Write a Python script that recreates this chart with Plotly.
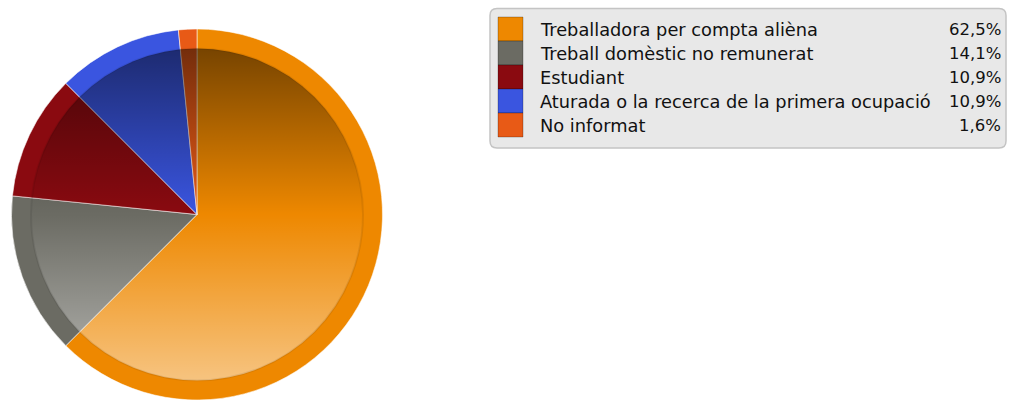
import base64
import plotly.graph_objects as go

labels = ["Treballadora per compta ali\u00e8na",
          "Treball dom\u00e8stic no remunerat",
          "Estudiant",
          "Aturada o la recerca de la primera ocupaci\u00f3",
          "No informat"]
values = [62.5, 14.1, 10.9, 10.9, 1.6]
colors = ["#EE8800", "#6B6B63", "#8A0A10", "#3A55E0", "#E85A16"]

W, H = 1009, 400

# pie placement (pixels)
cx, cy, r = 197, 214.5, 185.5
r_in = 167

fig = go.Figure()
fig.add_trace(go.Pie(
    labels=labels, values=values, sort=False, direction="clockwise",
    rotation=0, textinfo="none", hoverinfo="label+percent",
    marker=dict(colors=colors, line=dict(color="rgba(255,255,255,0.55)", width=1)),
    domain=dict(x=[(cx - r) / W, (cx + r) / W],
                y=[max(0, 1 - (cy + r) / H), 1 - (cy - r) / H]),
    showlegend=False,
))

# shading overlay for the inner disc (dark at top, light at bottom)
svg = (
    "<svg xmlns='http://www.w3.org/2000/svg' width='334' height='334'>"
    "<defs><linearGradient id='g' x1='0' y1='0' x2='0' y2='1'>"
    "<stop offset='0' stop-color='#000' stop-opacity='0.5'/>"
    "<stop offset='0.5' stop-color='#000' stop-opacity='0'/>"
    "<stop offset='0.5' stop-color='#fff' stop-opacity='0'/>"
    "<stop offset='1' stop-color='#fff' stop-opacity='0.5'/>"
    "</linearGradient></defs>"
    "<circle cx='167' cy='167' r='166' fill='url(#g)' "
    "stroke='rgba(0,0,0,0.08)' stroke-width='2'/></svg>"
)
src = "data:image/svg+xml;base64," + base64.b64encode(svg.encode()).decode()
fig.add_layout_image(dict(
    source=src, xref="paper", yref="paper",
    x=(cx - r_in) / W, y=1 - (cy - r_in) / H,
    sizex=2 * r_in / W, sizey=2 * r_in / H,
    xanchor="left", yanchor="top", sizing="stretch", layer="above",
))

# legend box, drawn in pixel coordinates on hidden axes
x0, x1, y0, y1, rc = 490, 1006, 8.5, 148, 7
box = (f"M {x0+rc},{y0} L {x1-rc},{y0} Q {x1},{y0} {x1},{y0+rc} "
       f"L {x1},{y1-rc} Q {x1},{y1} {x1-rc},{y1} L {x0+rc},{y1} "
       f"Q {x0},{y1} {x0},{y1-rc} L {x0},{y0+rc} Q {x0},{y0} {x0+rc},{y0} Z")
fig.add_shape(type="path", path=box, xref="x", yref="y",
              fillcolor="#E8E8E8", line=dict(color="#C4C4C4", width=1.5), layer="below")

row0, step = 17, 24
lab_font = dict(family="DejaVu Sans", size=17.8, color="#111111")
pct_font = dict(family="DejaVu Sans", size=16.5, color="#111111")
for i, (lab, val, col) in enumerate(zip(labels, values, colors)):
    top = row0 + step * i
    fig.add_shape(type="rect", x0=498, x1=523, y0=top, y1=top + step,
                  xref="x", yref="y", fillcolor=col,
                  line=dict(color="rgba(0,0,0,0.25)", width=1))
    fig.add_annotation(x=538, y=top + step / 2, xref="x", yref="y", text=lab,
                       showarrow=False, xanchor="left", yanchor="middle", font=lab_font)
    fig.add_annotation(x=1003, y=top + step / 2, xref="x", yref="y",
                       text=f"{val:.1f}".replace(".", ",") + "%",
                       showarrow=False, xanchor="right", yanchor="middle", font=pct_font)

fig.update_xaxes(range=[0, W], visible=False, fixedrange=True)
fig.update_yaxes(range=[H, 0], visible=False, fixedrange=True)
fig.update_layout(
    width=W, height=H, margin=dict(l=0, r=0, t=0, b=0),
    paper_bgcolor="white", plot_bgcolor="rgba(0,0,0,0)",
)

# drop the default 8px page margin so the figure sits at the window origin
fig.write_html("out.html", config={"displayModeBar": False}, post_script=(
    "document.body.style.margin='0';document.body.style.overflow='hidden';"))
